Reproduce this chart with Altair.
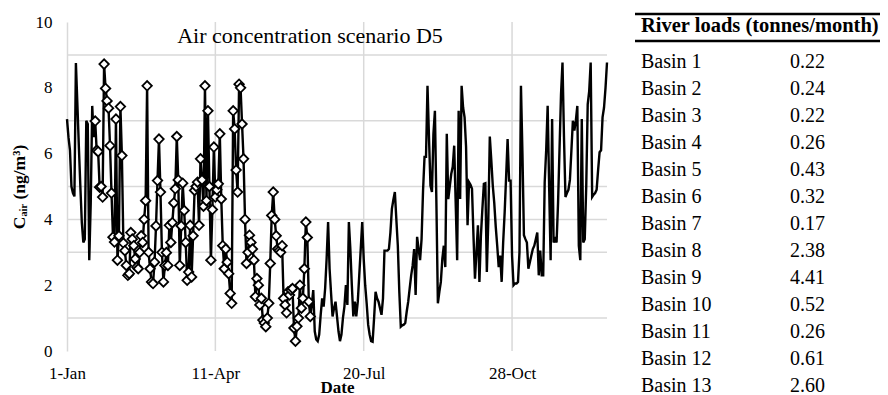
import altair as alt
import pandas as pd

FONT = "Liberation Serif"

# Daily air concentration (ng/m3), scenario D5
jan = [7.05, 6.5, 6.1, 5.0, 4.8, 4.7, 8.75, 7.5, 6.2, 5.0, 3.9, 3.3, 3.4, 7.0, 6.9, 2.76,
       4.5, 7.45, 6.5, 6.99, 6.1, 6.06, 4.98, 5.0, 4.68, 8.72, 7.98, 7.6, 7.38, 6.24, 4.8]
feb = [3.46, 3.31, 7.05, 2.76, 3.5, 7.43, 5.94, 3.28, 3.05, 2.6, 2.3, 2.35, 3.6, 3.4,
       3.2, 2.8, 2.55, 2.5, 3.0, 3.5, 3.3, 4.0, 4.57, 8.06, 3.0, 2.5, 2.1, 2.05]
mar = [2.7, 3.8, 5.18, 6.44, 4.83, 3.0, 2.1, 2.6, 2.99, 2.6, 3.82, 3.3, 3.9, 4.5, 4.93,
       6.52, 5.2, 2.6, 3.8, 5.1, 4.27, 3.3, 2.15, 2.4, 3.82, 2.25, 3.5, 4.88, 5.0, 5.13, 3.82]
apr = [5.84, 5.2, 4.4, 8.06, 4.57, 7.3, 5.0, 2.76, 4.3, 6.2, 4.68, 4.9, 5.08, 6.6, 4.62,
       3.2, 2.5, 3.1, 2.7, 2.35, 1.75, 1.45, 7.3, 6.75, 5.5, 4.83, 8.11, 8.0, 6.9, 5.84]
may = [4.0, 2.66, 3.0, 3.52, 3.3, 3.1, 2.76, 1.65, 2.2, 2.0, 1.4, 1.6, 0.94, 0.85, 0.74,
       1.0, 1.45, 2.66, 4.12, 4.83, 4.0, 3.5, 3.1, 3.05, 3.0, 3.2, 1.6, 1.4, 1.16, 1.8, 1.7]
jun = [1.85, 1.9, 0.7, 0.3, 0.75, 1.0, 2.0, 1.3, 1.6, 2.5, 3.92, 3.45, 1.5, 1.05, 1.4,
       1.85, 0.6, 0.35, 0.3, 0.5, 1.1, 1.6, 1.35, 1.9, 2.8, 3.92, 2.5, 1.75, 1.05, 1.3]
jul = [1.5, 1.05, 0.6, 0.3, 0.5, 1.0, 1.35, 2.0, 1.4, 3.92, 3.1, 2.0, 1.05, 1.5, 1.05,
       1.5, 2.3, 3.1, 3.92, 2.8, 2.0, 1.45, 0.8, 0.5, 0.3, 0.28, 1.0, 1.8, 1.6, 1.5, 1.3]
aug = [1.1, 1.6, 3.05, 3.05, 3.05, 3.1, 3.6, 4.32, 4.6, 4.83, 4.0, 3.2, 1.8, 0.74, 0.78,
       0.8, 0.85, 1.2, 1.5, 1.9, 2.3, 2.6, 3.1, 1.7, 3.47, 3.1, 2.76, 3.4, 4.88, 5.9, 5.9]
sep = [8.06, 6.5, 5.03, 4.83, 6.6, 7.3, 4.5, 1.45, 1.8, 2.1, 2.8, 3.2, 2.55, 6.6, 4.62,
       5.0, 5.38, 5.6, 6.24, 4.5, 2.76, 7.3, 4.62, 8.06, 7.4, 7.1, 6.2, 3.82, 5.13, 5.05]
oct_ = [4.93, 3.5, 2.2, 3.0, 3.82, 2.1, 3.5, 4.32, 5.08, 5.1, 2.4, 4.0, 6.52, 5.8, 5.03,
        4.5, 3.78, 3.2, 2.55, 2.9, 2.1, 3.3, 4.2, 5.3, 6.44, 5.18, 5.18, 2.9, 2.0, 2.05, 2.05]
nov = [2.1, 3.0, 8.06, 6.0, 3.52, 3.4, 3.3, 2.5, 2.7, 2.9, 3.1, 3.2, 3.4, 3.6, 2.3,
       3.05, 2.3, 2.3, 5.13, 6.1, 7.45, 5.0, 2.76, 7.05, 3.3, 3.4, 3.3, 4.5, 6.14, 7.8]
dec = [8.77, 6.5, 4.68, 4.8, 4.9, 5.2, 6.09, 7.0, 6.7, 7.0, 7.45, 3.2, 2.76, 7.05, 3.3,
       3.4, 5.0, 7.5, 7.9, 8.77, 4.68, 4.75, 4.8, 4.9, 5.5, 6.04, 6.1, 7.1, 7.4, 8.0, 8.77]

cair = jan + feb + mar + apr + may + jun + jul + aug + sep + oct_ + nov + dec
days = list(range(len(cair)))
MARK_FIRST, MARK_LAST = 19, 164   # days drawn with diamond markers

tick_days = [0, 100, 200, 300]
tick_labels = ["1-Jan", "11-Apr", "20-Jul", "28-Oct"]
y_ticks = list(range(0, 11))
grid_y = [1, 3, 4, 5, 7, 9]
grid_x = [100, 200, 300]

chart_title = "Air concentration scenario D5"
basins = [f"Basin {i}" for i in range(1, 14)]
loads = ["0.22", "0.24", "0.22", "0.26", "0.43", "0.32", "0.17",
         "2.38", "4.41", "0.52", "0.26", "0.61", "2.60"]
table_header = "River loads (tonnes/month)"

GRID = "#d9d9d9"
W, H = 540, 329
PAD = {"left": 59, "top": 14, "right": 273, "bottom": 46}

label_expr = "".join(f"datum.value == {d} ? '{l}' : " for d, l in zip(tick_days, tick_labels)) + "''"

x_scale = alt.Scale(domain=[0, 364], nice=False, zero=False)
y_scale = alt.Scale(domain=[0, 10], nice=False)

x_axis = alt.Axis(values=tick_days, labelExpr=label_expr, labelFlush=False, title="Date",
                  grid=False, domain=False, ticks=False, tickSize=0, labelPadding=14,
                  titleX=W / 2, titleY=41, titleAlign="center", titleBaseline="alphabetic")
y_axis = alt.Axis(values=y_ticks, title="Cₐᵢᵣ (ng/m³)", grid=False,
                  domainColor=GRID, domainWidth=1.5, ticks=False, tickSize=0,
                  labelPadding=15, titleX=-48, titleY=H / 2, titleAngle=270,
                  titleAlign="center", titleBaseline="middle")

line_df = pd.DataFrame({"day": days, "cair": cair})
mark_df = line_df[(line_df["day"] >= MARK_FIRST) & (line_df["day"] <= MARK_LAST)]

hgrid = alt.Chart(pd.DataFrame({"cair": grid_y})).mark_rule(color=GRID, strokeWidth=1.5).encode(
    y=alt.Y("cair:Q", scale=y_scale, axis=y_axis))
vgrid = alt.Chart(pd.DataFrame({"day": grid_x})).mark_rule(color=GRID, strokeWidth=1.5).encode(
    x=alt.X("day:Q", scale=x_scale, axis=x_axis), y=alt.datum(0), y2=alt.datum(10))
line = alt.Chart(line_df).mark_line(color="black", strokeWidth=2.4).encode(
    x=alt.X("day:Q", scale=x_scale, axis=x_axis),
    y=alt.Y("cair:Q", scale=y_scale, axis=y_axis))
pts = alt.Chart(mark_df).mark_point(shape="diamond", filled=True, fill="white", stroke="black",
                                    strokeWidth=1.8, size=90, opacity=1).encode(
    x=alt.X("day:Q", scale=x_scale, axis=x_axis),
    y=alt.Y("cair:Q", scale=y_scale, axis=y_axis))
title_mark = alt.Chart(pd.DataFrame({"t": [chart_title]})).mark_text(
    align="center", baseline="alphabetic", font=FONT, fontSize=22, color="black").encode(
    x=alt.value(243), y=alt.value(21), text="t:N")

main = alt.layer(hgrid, vgrid, line, pts, title_mark)

# Table of river loads, to the right of the plot
table_df = pd.DataFrame({"row": list(range(len(basins))), "basin": basins, "load": loads})
row_scale = alt.Scale(domain=[0, 12], range=[45.5, 369.5], nice=False, zero=False)
names = alt.Chart(table_df).mark_text(align="left", baseline="alphabetic", font=FONT,
                                      fontSize=20, color="black").encode(
    x=alt.value(574), y=alt.Y("row:Q", scale=row_scale, axis=None), text="basin:N")
vals = alt.Chart(table_df).mark_text(align="left", baseline="alphabetic", font=FONT,
                                     fontSize=20, color="black").encode(
    x=alt.value(723), y=alt.Y("row:Q", scale=row_scale, axis=None), text="load:N")
header = alt.Chart(pd.DataFrame({"h": [table_header]})).mark_text(
    align="left", baseline="alphabetic", font=FONT, fontSize=20.5, fontWeight="bold",
    color="black").encode(x=alt.value(574), y=alt.value(10), text="h:N")
top_rule = alt.Chart(pd.DataFrame({"r": [0]})).mark_rule(color="black", strokeWidth=2.5).encode(
    x=alt.value(568), x2=alt.value(813), y=alt.value(-8))
head_rule = alt.Chart(pd.DataFrame({"r": [1]})).mark_rule(color="black", strokeWidth=2.5).encode(
    x=alt.value(568), x2=alt.value(813), y=alt.value(19))

table = alt.layer(top_rule, head_rule, header, names, vals)

chart = (
    alt.layer(main, table)
    .resolve_scale(y="independent")
    .properties(width=W, height=H, padding=PAD, autosize=alt.AutoSizeParams(type="none"))
    .configure_view(stroke=None)
    .configure_axis(labelFont=FONT, labelFontSize=17, labelColor="black",
                    titleFont=FONT, titleFontSize=17, titleFontWeight="bold",
                    titleColor="black")
    .configure_axisY(titleFontSize=17.5)
)

chart.save("out.html", embed_options={"renderer": "svg", "actions": False})
